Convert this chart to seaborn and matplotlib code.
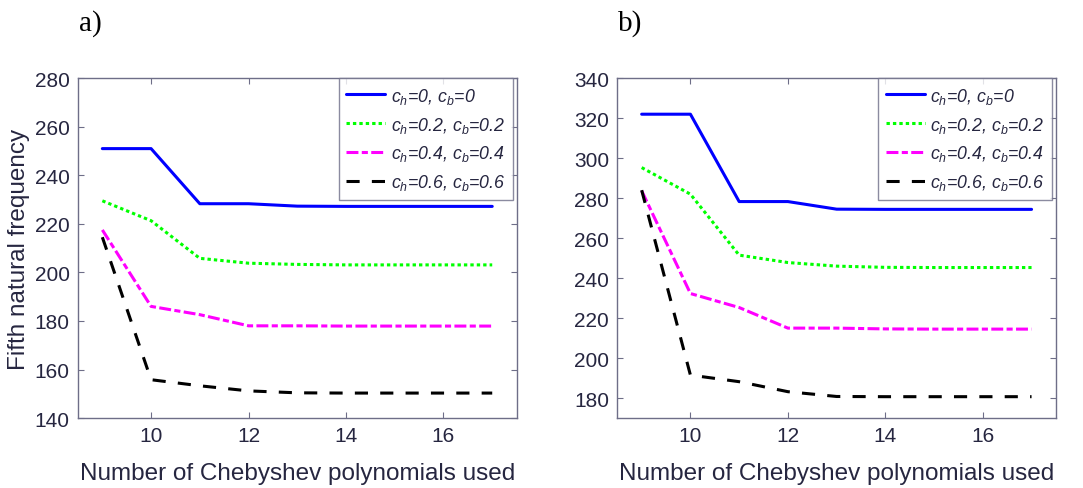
import numpy as np
import pandas as pd
import matplotlib
matplotlib.use("Agg")
import matplotlib.pyplot as plt
import seaborn as sns

# Number of Chebyshev polynomials
n_poly = [9, 10, 11, 12, 13, 14, 15, 16, 17]

# Panel a) fifth natural frequency
a_c00 = [251.0, 251.0, 228.3, 228.3, 227.3, 227.2, 227.2, 227.2, 227.2]
a_c02 = [229.5, 221.3, 205.8, 203.8, 203.3, 203.1, 203.1, 203.1, 203.1]
a_c04 = [217.5, 186.0, 182.6, 178.0, 178.0, 177.9, 177.9, 177.9, 177.9]
a_c06 = [214.5, 155.8, 153.3, 151.2, 150.4, 150.3, 150.3, 150.3, 150.3]

# Panel b) fifth natural frequency
b_c00 = [322.0, 322.0, 278.3, 278.3, 274.5, 274.4, 274.4, 274.4, 274.4]
b_c02 = [295.3, 282.0, 251.5, 247.8, 246.0, 245.4, 245.3, 245.3, 245.3]
b_c04 = [283.7, 232.3, 225.3, 215.0, 215.0, 214.6, 214.5, 214.5, 214.5]
b_c06 = [284.0, 191.5, 188.2, 183.2, 180.8, 180.7, 180.7, 180.7, 180.7]

labels = [r"$c_h$=0, $c_b$=0", r"$c_h$=0.2, $c_b$=0.2",
          r"$c_h$=0.4, $c_b$=0.4", r"$c_h$=0.6, $c_b$=0.6"]
colors = ["#0000FF", "#00FF00", "#FF00FF", "#000000"]
# dash sequences (on, off, ...) in units of line width; "" is solid
dash_seqs = ["", (1.1, 1.0), (3.9, 1.1, 2.0, 1.1), (4.3, 4.0)]
LW = 2.2

sns.set_theme(style="ticks")
plt.rcParams["font.family"] = ["Liberation Sans", "DejaVu Sans"]
plt.rcParams["mathtext.fontset"] = "custom"
plt.rcParams["mathtext.it"] = "Liberation Sans:italic"
plt.rcParams["mathtext.rm"] = "Liberation Sans"

text_col = "#262640"
axis_col = "#6e6e88"

fig = plt.figure(figsize=(10.83, 4.89), dpi=100)
ax_a = fig.add_axes([0.072, 0.143, 0.405, 0.695])
ax_b = fig.add_axes([0.570, 0.143, 0.405, 0.695])


def handle_style(seq):
    return "-" if seq == "" else (0, seq)


def panel(ax, series, ylim, yticks, tag, tag_x):
    frames = []
    for lab, vals in zip(labels, series):
        frames.append(pd.DataFrame({"n": n_poly, "freq": vals, "case": lab}))
    df = pd.concat(frames, ignore_index=True)
    sns.lineplot(data=df, x="n", y="freq", hue="case", style="case",
                 hue_order=labels, style_order=labels,
                 palette=dict(zip(labels, colors)),
                 dashes=dict(zip(labels, dash_seqs)),
                 linewidth=LW, ax=ax, legend=False)
    ax.set_xlim(8.5, 17.5)
    ax.set_ylim(*ylim)
    ax.set_xticks([10, 12, 14, 16])
    ax.set_yticks(yticks)
    ax.tick_params(direction="in", top=True, right=True, length=4,
                   width=0.8, color=axis_col, labelcolor=text_col,
                   labelsize=15, pad=6)
    for sp in ax.spines.values():
        sp.set_color(axis_col)
        sp.set_linewidth(1.0)
    ax.set_xlabel("Number of Chebyshev polynomials used", fontsize=17.5,
                  color=text_col, labelpad=12)
    ax.set_ylabel("")
    handles = [plt.Line2D([], [], color=c, linestyle=handle_style(s),
                          linewidth=LW)
               for c, s in zip(colors, dash_seqs)]
    leg = ax.legend(handles, labels, loc="upper right",
                    bbox_to_anchor=(0.991, 1.0), borderaxespad=0.0,
                    frameon=True, fancybox=False, handlelength=2.2,
                    handletextpad=0.3, borderpad=0.42, labelspacing=0.5,
                    prop={"style": "italic", "size": 12.8})
    leg.get_frame().set_edgecolor(axis_col)
    leg.get_frame().set_linewidth(1.0)
    for t in leg.get_texts():
        t.set_color(text_col)
    fig.text(tag_x, 0.938, tag, fontsize=21, family="Liberation Serif",
             color="#000000", ha="left", va="baseline")


panel(ax_a, [a_c00, a_c02, a_c04, a_c06], (140, 280),
      np.arange(140, 281, 20), "a)", 0.073)
panel(ax_b, [b_c00, b_c02, b_c04, b_c06], (170, 340),
      np.arange(180, 341, 20), "b)", 0.571)
ax_a.set_ylabel("Fifth natural frequency", fontsize=17.5, color=text_col,
                labelpad=3)

fig.savefig("out.png", dpi=100)
